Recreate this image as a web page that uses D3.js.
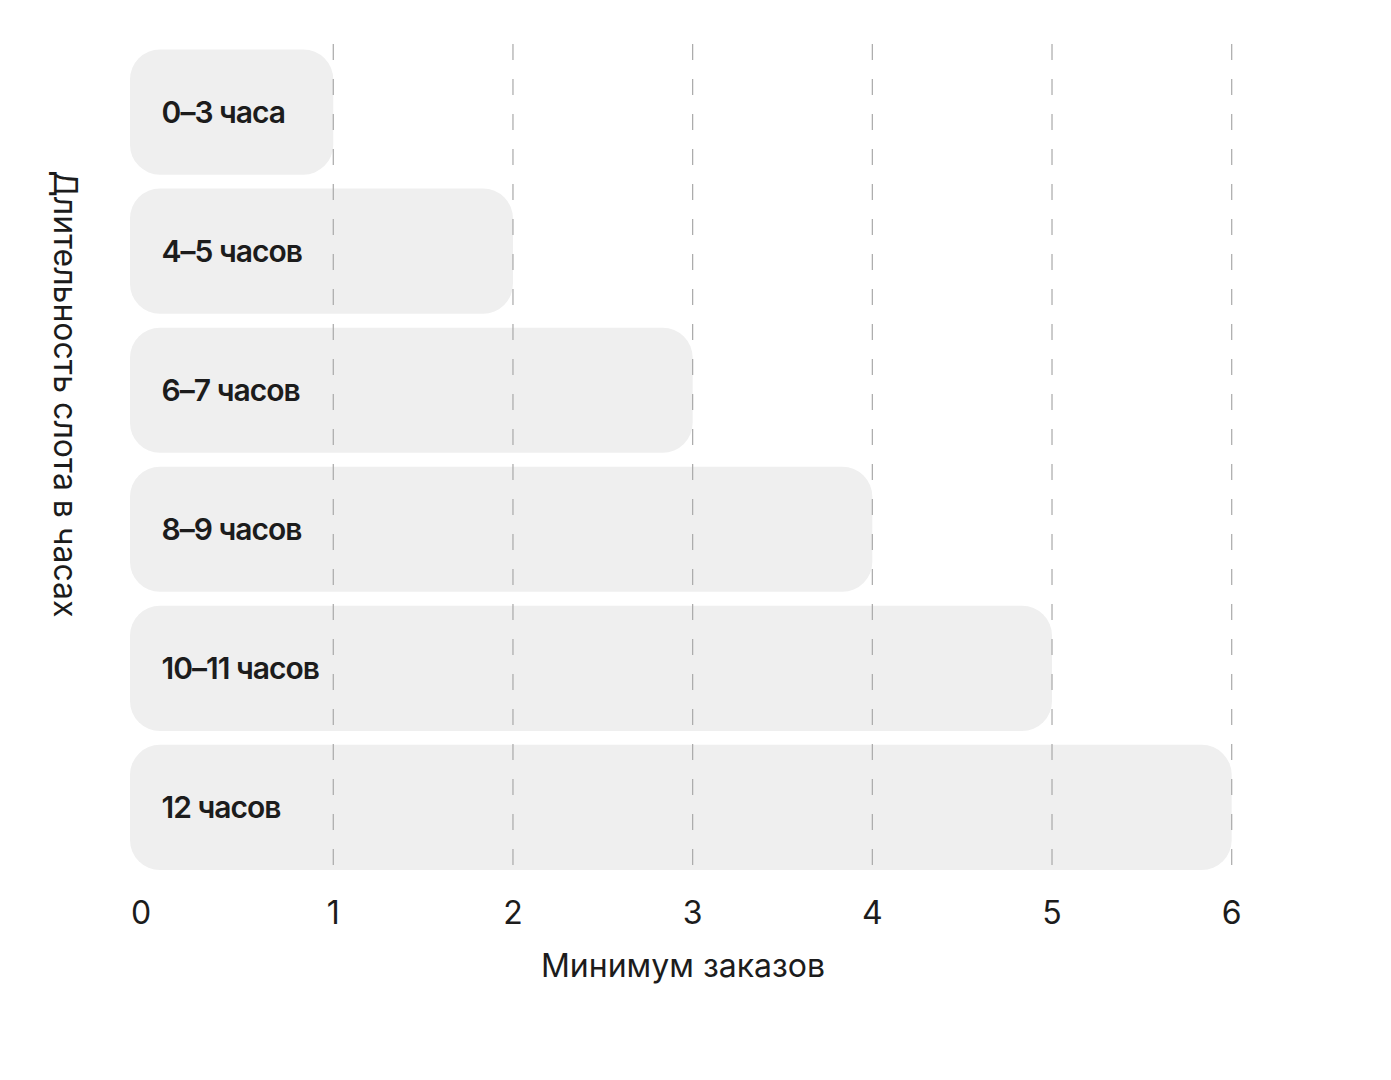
<!DOCTYPE html>
<html lang="ru">
<head>
  <meta charset="UTF-8">
  <title>Минимум заказов</title>
  <script src="https://cdn.jsdelivr.net/npm/d3@7/dist/d3.min.js"></script>
  <style>
    body { margin: 0; background: #fff; }
    svg { display: block; font-family: Inter, "Noto Sans", sans-serif; }
    .tick-label { font-size: 32px; fill: #1c1c1c; }
    .bar-label { font-size: 30px; font-weight: 600; fill: #1c1c1c; letter-spacing: -1px; }
    .axis-title { font-size: 32px; fill: #1c1c1c; }
    .grid line { stroke: #a9a9a9; stroke-width: 1.2; stroke-dasharray: 16 19; }
  </style>
</head>
<body>
<svg width="1391" height="1080"></svg>
<script>
  // данные
  const categories = ['0–3 часа', '4–5 часов', '6–7 часов', '8–9 часов', '10–11 часов', '12 часов'];
  const minOrders = [1, 2, 3, 4, 5, 6];
  const ticks = [0, 1, 2, 3, 4, 5, 6];

  const svg = d3.select('svg');

  const x = d3.scaleLinear().domain([0, 6]).range([153.6, 1231.7]);
  const y = d3.scaleBand().domain(categories).range([49.5, 870]).paddingInner(0.1).paddingOuter(0);

  const barPad = 23.6; // бары начинаются чуть левее нуля
  const radius = 30;

  // бары
  svg.append('g')
    .selectAll('rect')
    .data(categories)
    .join('rect')
    .attr('x', x(0) - barPad)
    .attr('y', d => y(d))
    .attr('width', (d, i) => x(minOrders[i]) - x(0) + barPad)
    .attr('height', y.bandwidth())
    .attr('rx', radius)
    .attr('fill', '#efefef');

  // подписи баров
  svg.append('g')
    .selectAll('text')
    .data(categories)
    .join('text')
    .attr('class', 'bar-label')
    .attr('x', x(0) + 8)
    .attr('y', d => y(d) + y.bandwidth() / 2 + 11)
    .text(d => d);

  // пунктирная сетка поверх баров
  svg.append('g')
    .attr('class', 'grid')
    .selectAll('line')
    .data(ticks.filter(t => t > 0))
    .join('line')
    .attr('x1', d => x(d))
    .attr('x2', d => x(d))
    .attr('y1', 44)
    .attr('y2', 870);

  // подписи оси x
  svg.append('g')
    .selectAll('text')
    .data(ticks)
    .join('text')
    .attr('class', 'tick-label')
    .attr('text-anchor', 'middle')
    .attr('x', d => d === 0 ? x(0) - 12.6 : x(d))
    .attr('y', 924)
    .text(d => d);

  svg.append('text')
    .attr('class', 'axis-title')
    .attr('text-anchor', 'middle')
    .attr('x', 683)
    .attr('y', 977)
    .text('Минимум заказов');

  svg.append('text')
    .attr('class', 'axis-title')
    .attr('text-anchor', 'middle')
    .attr('transform', 'translate(54,394) rotate(90)')
    .text('Длительность слота в часах');
</script>
</body>
</html>
